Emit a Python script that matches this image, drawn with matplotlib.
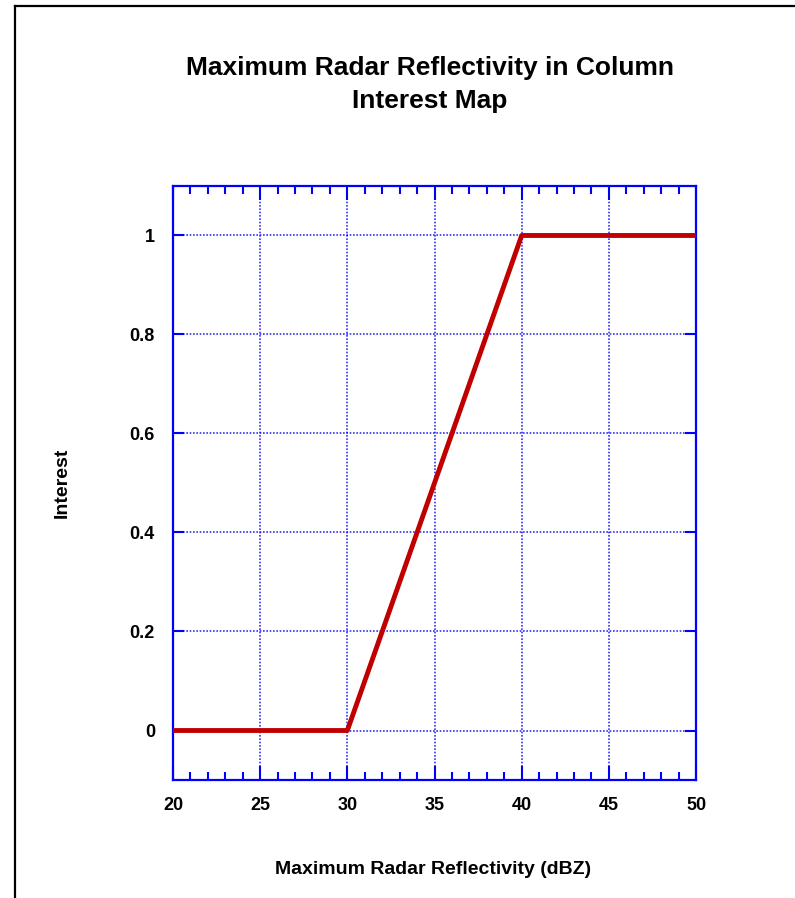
import matplotlib
matplotlib.use("Agg")
import matplotlib.pyplot as plt
from matplotlib.lines import Line2D
from matplotlib.ticker import MultipleLocator

# Interest map data
reflectivity = [20, 30, 40, 50]
interest = [0, 0, 1, 1]

x_ticks = [20, 25, 30, 35, 40, 45, 50]
y_ticks = [0, 0.2, 0.4, 0.6, 0.8, 1]
y_labels = ["0", "0.2", "0.4", "0.6", "0.8", "1"]

plt.rcParams['font.family'] = ['Liberation Sans', 'DejaVu Sans']
plt.rcParams['font.weight'] = 'bold'

blue = "#0000ff"
W, H = 795, 898
fig = plt.figure(figsize=(W / 100, H / 100), dpi=100)
ax = fig.add_axes([0.2176, 0.1314, 0.6579, 0.6615])

ax.plot(reflectivity, interest, color="#c00000", linewidth=3.5, solid_capstyle="butt", zorder=3)

ax.set_xlim(20, 50)
ax.set_ylim(-0.1, 1.1)
ax.set_xticks(x_ticks)
ax.set_yticks(y_ticks)
ax.set_yticklabels(y_labels)
ax.xaxis.set_minor_locator(MultipleLocator(1))

ax.grid(True, which="major", color=blue, linestyle=(0, (1, 1)), linewidth=1.2, alpha=0.8)
for s in ax.spines.values():
    s.set_color(blue)
    s.set_linewidth(1.6)

ax.tick_params(axis="both", which="both", direction="in", color=blue,
               top=True, right=True, labelsize=13, width=1.5)
ax.tick_params(axis="x", which="major", length=10, pad=12)
ax.tick_params(axis="x", which="minor", length=6)
ax.tick_params(axis="y", which="major", length=8, pad=13)

# title and axis labels placed in pixel positions
fig.text(430 / W, 1 - 68 / H, "Maximum Radar Reflectivity in Column",
         ha="center", va="center", fontsize=19, fontweight="bold")
fig.text(430 / W, 1 - 101 / H, "Interest Map",
         ha="center", va="center", fontsize=19, fontweight="bold")
fig.text(433 / W, 1 - 870 / H, "Maximum Radar Reflectivity (dBZ)",
         ha="center", va="center", fontsize=14, fontweight="bold")
fig.text(62 / W, 1 - 483 / H, "Interest", rotation=90,
         ha="center", va="center", fontsize=14, fontweight="bold")

# frame lines on the left and top edges
fig.add_artist(Line2D([0.019, 0.019], [0, 0.9935], color="black", linewidth=1.6))
fig.add_artist(Line2D([0.019, 1.0], [0.9935, 0.9935], color="black", linewidth=1.6))

fig.savefig("out.png", dpi=100, facecolor="white")
